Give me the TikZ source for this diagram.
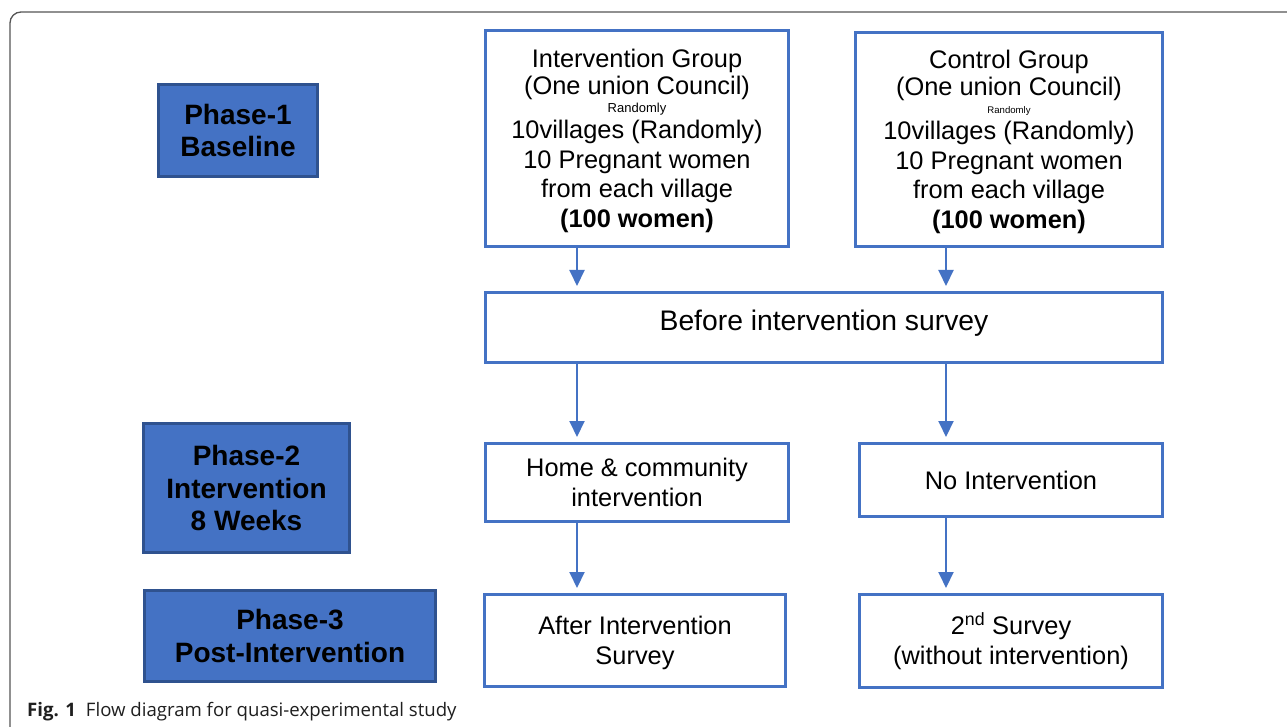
\documentclass[tikz,border=0pt]{standalone}
\usepackage{fontspec}
\setmainfont{Liberation Sans}
\newfontfamily\capfont{Open Sans}
\usetikzlibrary{arrows.meta}
\definecolor{boxblue}{HTML}{4472C4}
\definecolor{navy}{HTML}{2F528F}
\definecolor{framegray}{HTML}{555555}
\begin{document}
\begin{tikzpicture}[x=1pt,y=-1pt,
  phase/.style={draw=navy, fill=boxblue, line width=2.5pt, align=center,
    font=\bfseries\fontsize{28}{32.5}\selectfont, inner sep=0pt},
  wbox/.style={draw=boxblue, line width=3pt, fill=white, align=center,
    font=\fontsize{25.4}{29.5}\selectfont, inner sep=0pt},
  arr/.style={draw=boxblue, line width=2pt, -{Triangle[width=15pt,length=16pt]}, shorten >=5pt}]
\useasboundingbox (0,0) rectangle (1287,727);
\fill[white] (0,0) rectangle (1287,727);
\draw[framegray, line width=1.3pt, rounded corners=11pt] (10,727) -- (10,12) -- (1287,12);

\node[phase, minimum width=159, minimum height=92] (p1) at (238,130.5) {Phase-1\\Baseline};
\node[phase, minimum width=206, minimum height=129] (p2) at (246.5,488) {Phase-2\\Intervention\\8 Weeks};
\node[phase, minimum width=291, minimum height=91] (p3) at (290,636) {Phase-3\\Post-Intervention};

\node[wbox, minimum width=303, minimum height=216, text depth=0pt] (iv) at (637,138.5)
  {Intervention Group\\[-2.5pt](One union Council)\\[-12pt]{\fontsize{13}{15}\selectfont Randomly}\\[-3pt]10villages (Randomly)\\10 Pregnant women\\from each village\\\textbf{(100 women)}};
\node[wbox, minimum width=307, minimum height=214, text depth=0pt] (cg) at (1009,139.5)
  {Control Group\\[-2.5pt](One union Council)\\[-12pt]{\fontsize{9.6}{12}\selectfont Randomly}\\[-3pt]10villages (Randomly)\\10 Pregnant women\\from each village\\\textbf{(100 women)}};

\node[wbox, minimum width=677, minimum height=70, text depth=14pt, font=\fontsize{28.3}{32}\selectfont] (bf) at (824,327.5) {Before intervention survey};

\node[wbox, minimum width=303, minimum height=78] (home) at (637,482.5) {Home \& community\\intervention};
\node[wbox, minimum width=303, minimum height=73] (noi) at (1011,480) {No Intervention};
\node[wbox, minimum width=301, minimum height=92, text depth=-3pt] (after) at (635,640.5) {After Intervention\\Survey};
\node[wbox, minimum width=303, minimum height=93] (sec) at (1011,641) {2\textsuperscript{nd} Survey\\(without intervention)};

\coordinate (L) at (577,0);
\coordinate (R) at (946,0);
\draw[arr] (iv.south -| L) -- (bf.north -| L);
\draw[arr] (cg.south -| R) -- (bf.north -| R);
\draw[arr] (bf.south -| L) -- (home.north -| L);
\draw[arr] (bf.south -| R) -- (noi.north -| R);
\draw[arr] (home.south -| L) -- (after.north -| L);
\draw[arr] (noi.south -| R) -- (sec.north -| R);

\node[anchor=base west, inner sep=0pt, font=\capfont\fontsize{18.6}{20}\selectfont, text=black!88] (cap) at (27,716)
  {\textbf{Fig. 1}\hspace{10pt}Flow diagram for quasi-experimental study};
\end{tikzpicture}
\end{document}
